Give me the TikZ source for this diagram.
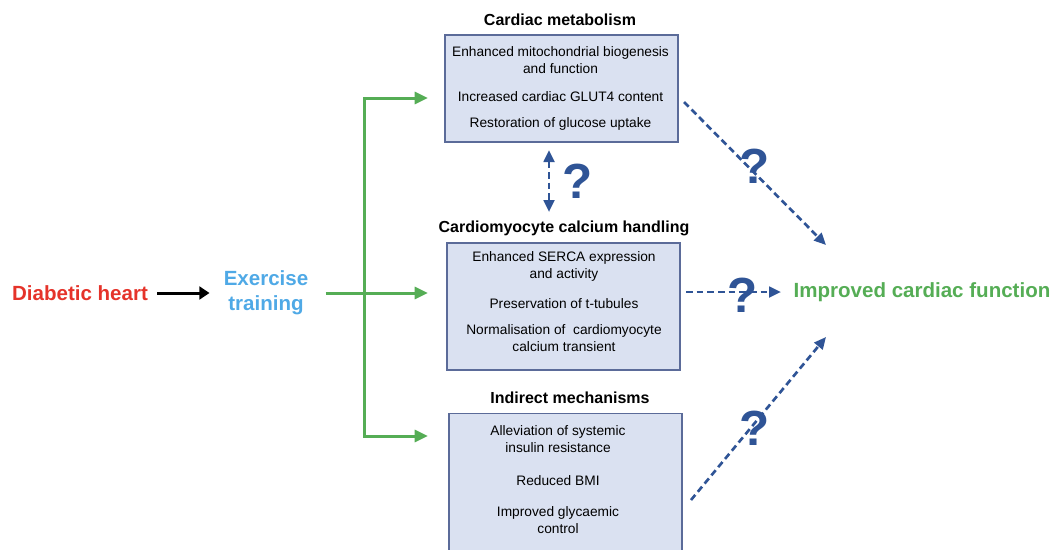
\documentclass[tikz,border=0pt]{standalone}
\usepackage{fontspec}
\setmainfont{Liberation Sans}
\usetikzlibrary{arrows.meta}

\definecolor{diabred}{HTML}{E5332A}
\definecolor{exblue}{HTML}{4FA9E6}
\definecolor{impgreen}{HTML}{55AD55}
\definecolor{qblue}{HTML}{2F5496}
\definecolor{boxfill}{HTML}{DAE1F1}
\definecolor{boxline}{HTML}{5B6B99}

\tikzset{
  panel/.style={draw=boxline, line width=1.1pt, fill=boxfill, minimum width=174.75pt, inner sep=0pt},
  items/.style={align=center, font=\fontsize{10.3}{12.75}\selectfont, inner sep=0pt},
  heading/.style={font=\fontsize{12}{14}\selectfont\bfseries, inner sep=0pt},
  bigword/.style={font=\fontsize{15.4}{18.75}\selectfont\bfseries, align=center, inner sep=0pt},
  query/.style={text=qblue, font=\fontsize{37}{37}\selectfont\bfseries, inner sep=0pt},
  greenarrow/.style={impgreen, line width=2.25pt, >={Triangle[length=10pt,width=9pt]}},
  blackarrow/.style={black, line width=2.25pt, >={Triangle[length=7.5pt,width=9.5pt]}},
  linkarrow/.style={qblue, line width=2pt, dash pattern=on 5pt off 3pt, >={Triangle[length=9pt,width=8pt]}}
}

\begin{document}
\begin{tikzpicture}[x=0.75pt,y=-0.75pt]
\useasboundingbox (0,0) rectangle (1054,550);

% start and end
\node[bigword, text=diabred] (diab) at (80,293) {Diabetic heart};
\node[bigword, text=exblue] (exer) at (266,293) {Exercise\\training};
\node[bigword, text=impgreen] (impr) at (922,292) {Improved cardiac function};
\draw[blackarrow,->] ([xshift=6.75pt]diab.east) -- ([xshift=-10.5pt]exer.west);

% Cardiac metabolism
\node[panel, minimum height=80.25pt] (metbox) at (561.5,88.5) {};
\node[heading] (methead) at (560,20) {Cardiac metabolism};
\node[items] (metitems) at (560.5,88.5) {Enhanced mitochondrial biogenesis\\and function\\[8.25pt]Increased cardiac GLUT4 content\\[6.75pt]Restoration of glucose uptake};

% Calcium handling
\node[panel, minimum height=95.25pt] (calbox) at (563.5,306.5) {};
\node[heading] (calhead) at (564,228) {Cardiomyocyte calcium handling};
\node[items] (calitems) at (564,302) {Enhanced SERCA expression\\and activity\\[9.75pt]Preservation of t-tubules\\[6.75pt]Normalisation of~ cardiomyocyte\\calcium transient};

% Indirect mechanisms
\node[panel, minimum height=110.25pt, anchor=north] (indbox) at (565.5,413) {};
\node[heading] (indhead) at (570,398) {Indirect mechanisms};
\node[items] (inditems) at (558,480) {Alleviation of systemic\\insulin resistance\\[12pt]Reduced BMI\\[10.5pt]Improved glycaemic\\control};

% exercise branches
\coordinate (split) at (364,293);
\coordinate (tomet) at (428,98);
\coordinate (tocal) at (428,293);
\coordinate (toind) at (428,436);
\draw[greenarrow,->] ([xshift=12.75pt]exer.east) -- (tocal);
\draw[greenarrow,->] (split) |- (tomet);
\draw[greenarrow,->] (split) |- (toind);

% uncertain links
\coordinate (metout) at (684,102);
\coordinate (metin) at (826,245);
\coordinate (calout) at (686,292);
\coordinate (calin) at (781,292);
\coordinate (indout) at (691,500);
\coordinate (indin) at (826,337);
\coordinate (linktop) at (549,150);
\coordinate (linkbot) at (549,212);
\draw[linkarrow,->] (metout) -- (metin);
\draw[linkarrow,->] (calout) -- (calin);
\draw[linkarrow,->] (indout) -- (indin);
\draw[linkarrow,<->] (linktop) -- (linkbot);

\node[query] (qmid) at (578,181) {?};
\node[query] (qmet) at (755,166) {?};
\node[query] (qcal) at (743,295) {?};
\node[query] (qind) at (755,428) {?};
\end{tikzpicture}
\end{document}
